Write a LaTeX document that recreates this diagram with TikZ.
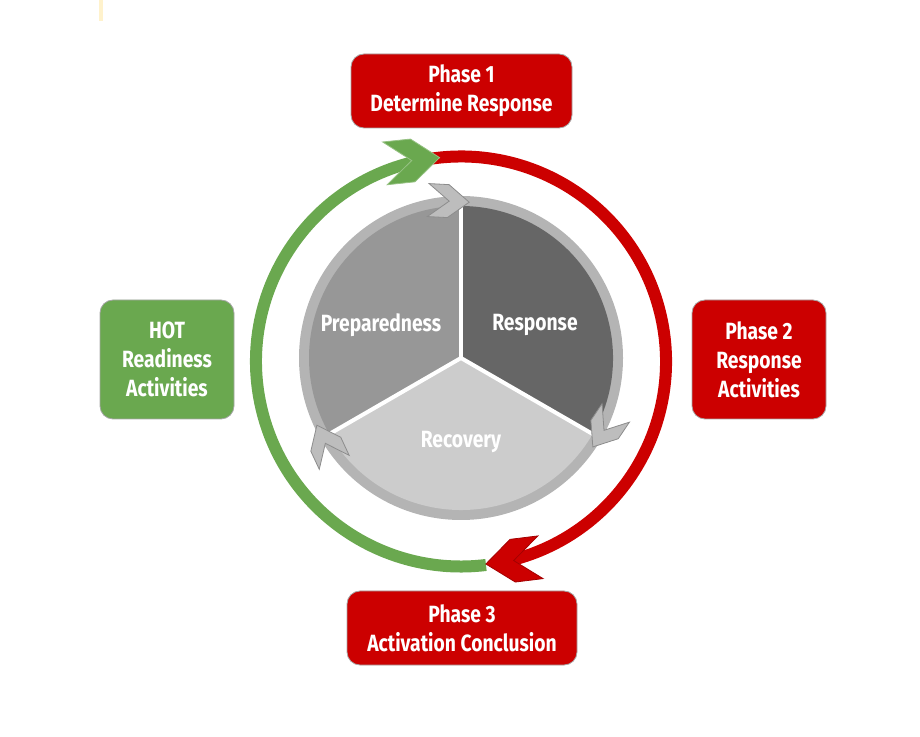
\documentclass[tikz,border=0pt]{standalone}
\usepackage{fontspec}
\newfontfamily\lblfont{Fira Sans}[FakeStretch=0.82]
\definecolor{pred}{HTML}{CC0000}
\definecolor{pgreen}{HTML}{6AA84F}
\definecolor{ringgray}{HTML}{B4B4B4}
\definecolor{prepgray}{HTML}{979797}
\definecolor{respgray}{HTML}{666666}
\definecolor{recogray}{HTML}{CCCCCC}
\definecolor{chevgray}{HTML}{BDBDBD}
\definecolor{markyellow}{HTML}{FFF2CC}
\newcommand\mychev[7]{% center, angle, radius, w, d, h, style
  \begin{scope}[shift={(#1)}]
    \begin{scope}[shift={(#2:#3)}, rotate=#2-90]
      \path[#7] (0,0) -- (-#5,#6/2) -- (-#4,#6/2) -- (-#4+#5,0) -- (-#4,-#6/2) -- (-#5,-#6/2) -- cycle;
    \end{scope}
  \end{scope}}
\begin{document}
\begin{tikzpicture}[x=1pt,y=1pt,
  txt/.style={font=\lblfont\bfseries\fontsize{23.5}{29}\selectfont, text=white, align=center},
  redbox/.style={txt, fill=pred, draw=gray!70, line width=0.8pt, rounded corners=13pt},
  greenbox/.style={txt, fill=pgreen, draw=gray!70, line width=0.8pt, rounded corners=13pt},
  greenarc/.style={draw=pgreen, line width=12pt},
  redarc/.style={draw=pred, line width=12pt},
  greenchev/.style={fill=pgreen, draw=pgreen!70!white, line width=0.8pt, line join=miter},
  redchev/.style={fill=pred, draw=pred!80!black, line width=0.8pt, line join=miter},
  graychev/.style={fill=chevgray, draw=gray!90, line width=0.8pt, line join=miter}]
\useasboundingbox (0,0) rectangle (920,736);
\fill[markyellow] (99,736) rectangle (103,715);

\coordinate (c1) at (461,378);
\coordinate (c2) at (461,374.5);

% outer cycle
\draw[greenarc] ([shift={(103:205)}]c2) arc[start angle=103, end angle=277, radius=205];
\draw[redarc] ([shift={(-76:205)}]c2) arc[start angle=-76, end angle=100, radius=205];
\mychev{c2}{96}{205}{55}{27}{43}{greenchev}
\mychev{c2}{-83}{204}{55}{27}{43}{redchev}

% inner pie
\fill[ringgray] (c1) circle[radius=162];
\fill[prepgray] (c1) -- ++(90:152) arc[start angle=90, end angle=210, radius=152] -- cycle;
\fill[respgray] (c1) -- ++(-30:152) arc[start angle=-30, end angle=90, radius=152] -- cycle;
\fill[recogray] (c1) -- ++(210:152) arc[start angle=210, end angle=330, radius=152] -- cycle;
\draw[white, line width=4pt] (c1) -- ++(90:152);
\draw[white, line width=4pt] (c1) -- ++(210:152);
\draw[white, line width=4pt] (c1) -- ++(330:152);
\mychev{c1}{87}{156}{41}{21}{33}{graychev}
\mychev{c1}{-34}{159}{41}{21}{33}{graychev}
\mychev{c1}{205}{159}{41}{21}{33}{graychev}

\node[txt] (prep) at (381,411) {Preparedness};
\node[txt] (resp) at (535,411) {Response};
\node[txt] (reco) at (461,294) {Recovery};

% boxes
\node[redbox, minimum width=221pt, minimum height=74pt] (p1) at (461.5,645) {Phase 1\\Determine Response};
\node[redbox, minimum width=134pt, minimum height=119pt] (p2) at (759,376.5) {Phase 2\\Response\\Activities};
\node[redbox, minimum width=230pt, minimum height=74pt] (p3) at (462,108) {Phase 3\\Activation Conclusion};
\node[greenbox, minimum width=134pt, minimum height=119pt] (hot) at (167,376.5) {HOT\\Readiness\\Activities};
\end{tikzpicture}
\end{document}
